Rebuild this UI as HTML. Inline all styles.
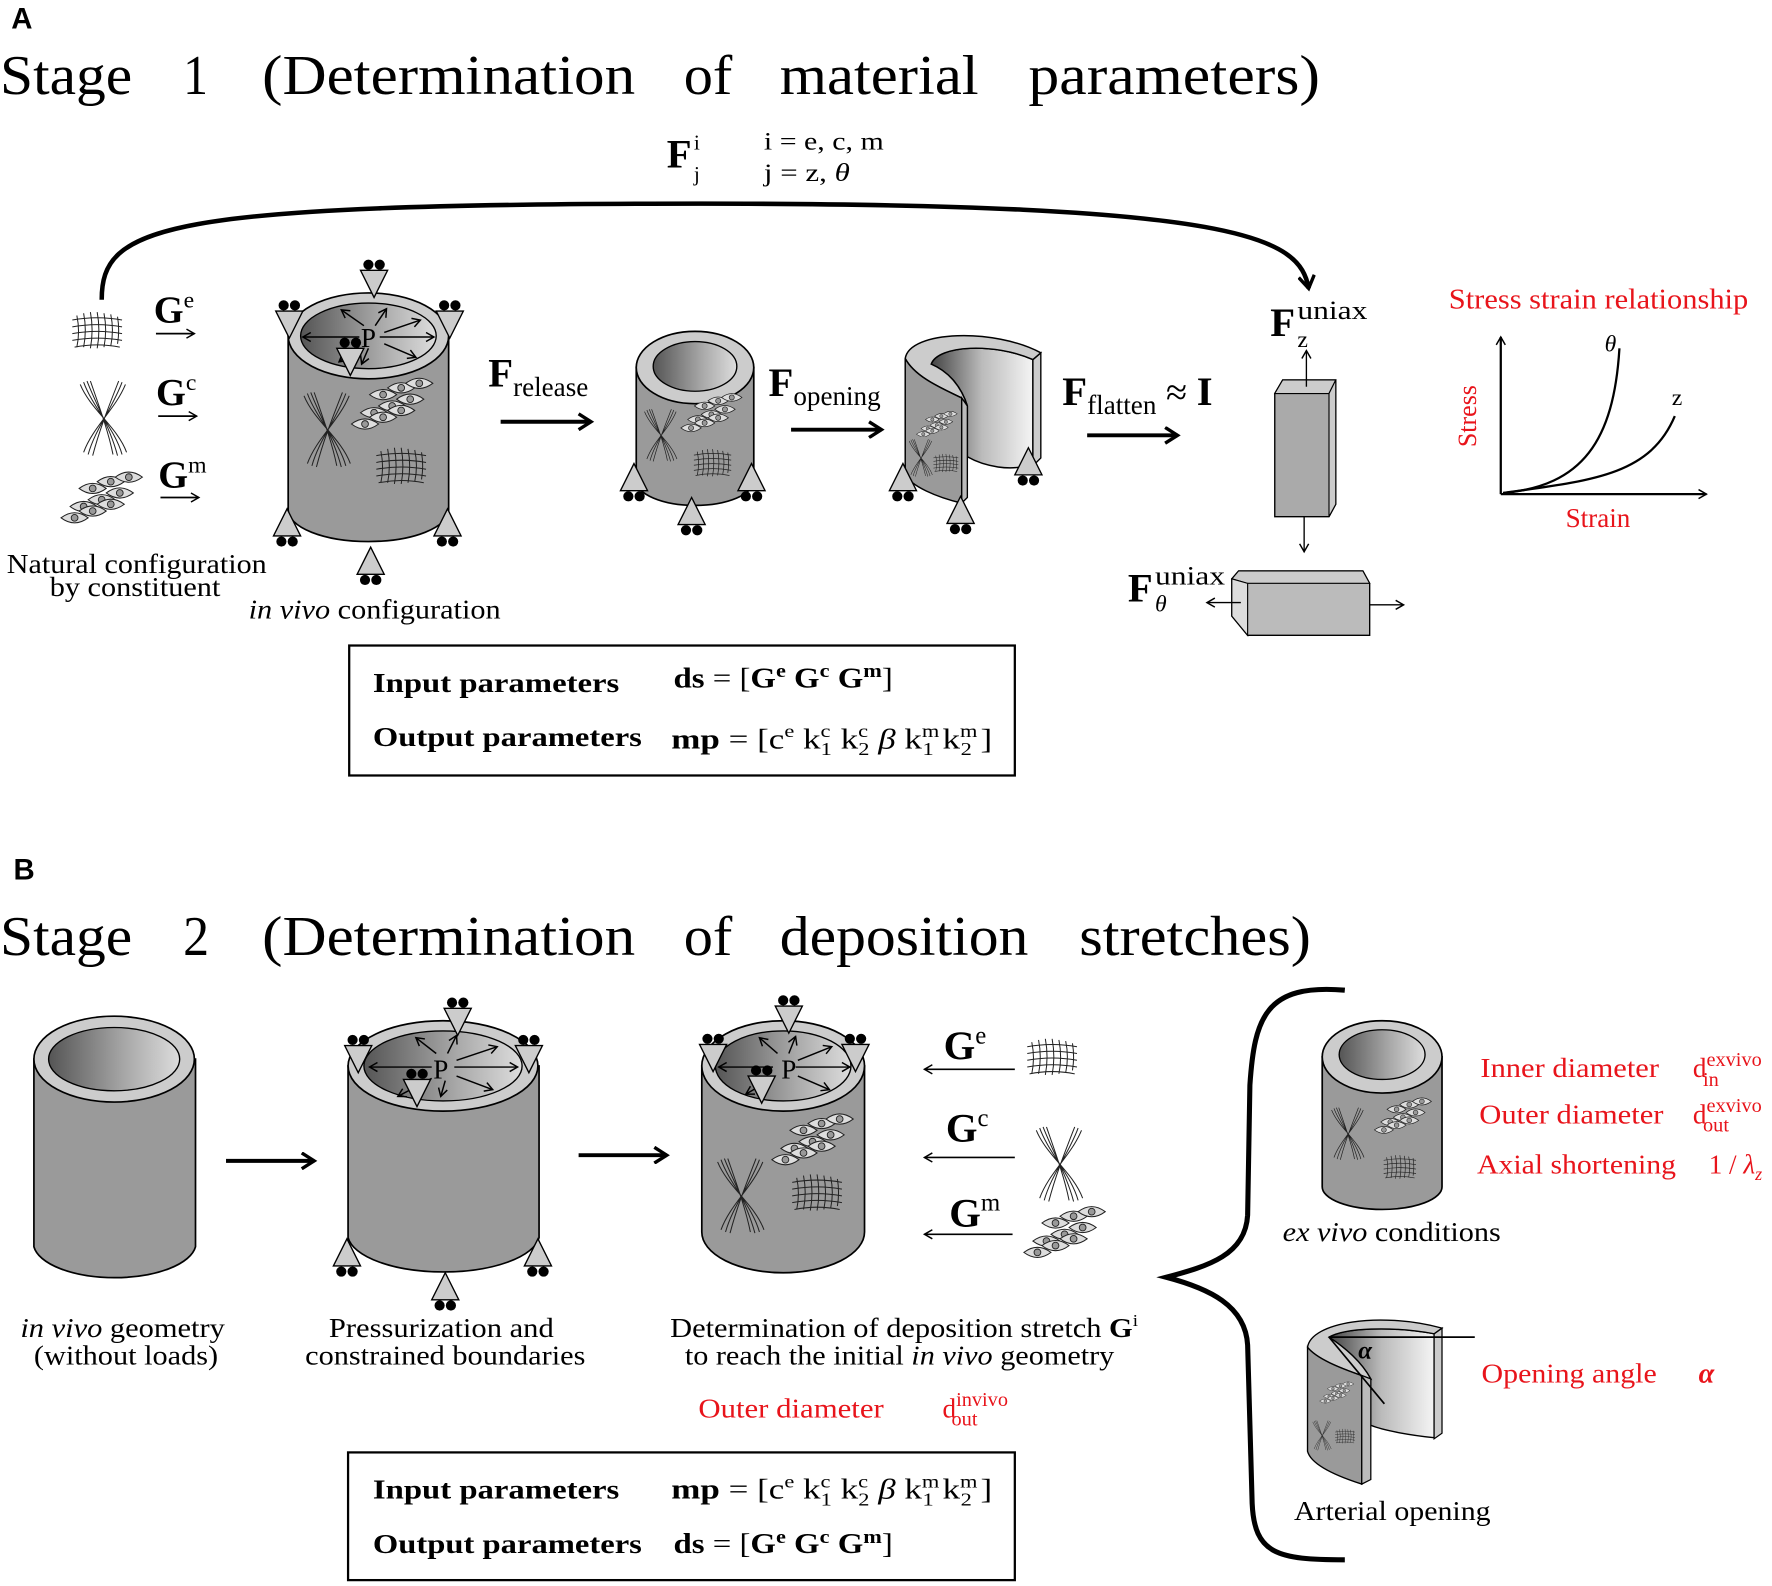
<!DOCTYPE html>
<html><head><meta charset="utf-8"><style>
html,body{margin:0;padding:0;background:#fff}
svg{display:block}
text{font-family:"Liberation Serif",serif}
.r{fill:#e8141b}
.sa{font-family:"Liberation Sans",sans-serif}
</style></head><body>
<svg width="1772" height="1586" viewBox="0 0 1568 1403" xmlns="http://www.w3.org/2000/svg">
<defs>
<linearGradient id="lum" x1="0" x2="1" y1="0" y2="0"><stop offset="0" stop-color="#555"/><stop offset="0.6" stop-color="#aaa"/><stop offset="1" stop-color="#ddd"/></linearGradient>
<linearGradient id="opn" x1="0" x2="1"><stop offset="0" stop-color="#444"/><stop offset="0.5" stop-color="#bbb"/><stop offset="1" stop-color="#f4f4f4"/></linearGradient>
<marker id="ah" markerWidth="10" markerHeight="10" refX="8" refY="5" orient="auto" markerUnits="userSpaceOnUse"><path d="M1,1 L8,5 L1,9" fill="none" stroke="#000" stroke-width="1.3"/></marker>
<marker id="ahb" markerWidth="16" markerHeight="16" refX="13" refY="8" orient="auto" markerUnits="userSpaceOnUse"><path d="M2,1 L13,8 L2,15" fill="none" stroke="#000" stroke-width="3"/></marker>
<g id="mesh" stroke="#222" stroke-width="0.9" fill="none">
<path d="M-20,-14 q3,14 0,28 M-14,-16 q3,15 0,30 M-8,-17 q3,16 0,32 M-2,-17 q3,16 0,32 M4,-16 q3,15 0,30 M10,-15 q3,14 0,28 M16,-13 q2,12 0,24"/>
<path d="M-24,-10 q22,-4 44,0 M-24,-4 q22,-4 44,0 M-24,2 q22,-4 44,0 M-24,8 q22,-4 44,0 M-22,14 q20,-4 40,0"/>
</g>
<g id="fib" stroke="#222" stroke-width="0.9" fill="none">
<path d="M-18,-32 C-10,-10 10,10 16,32 M-15,-33 C-6,-10 6,10 12,33 M-21,-30 C-12,-8 12,8 20,30 M-12,-33 C-4,-10 4,12 8,32"/>
<path d="M16,-32 C8,-10 -8,10 -14,32 M13,-33 C4,-10 -4,10 -10,33 M19,-30 C10,-8 -10,8 -18,30"/>
</g>
<g id="c1"><path d="M-12,0 q12,-9 24,0 q-12,9 -24,0z" fill="#ddd" stroke="#222" stroke-width="0.9"/><circle r="3" fill="#999" stroke="#222" stroke-width="0.8"/></g>
<g id="cel">
<use href="#c1" x="-14" y="8"/><use href="#c1" x="2" y="2"/><use href="#c1" x="18" y="-4"/>
<use href="#c1" x="-22" y="18"/><use href="#c1" x="-6" y="12"/><use href="#c1" x="10" y="6"/>
<use href="#c1" x="-6" y="-8"/><use href="#c1" x="10" y="-14"/><use href="#c1" x="26" y="-18"/>
</g>
<g id="sup"><path d="M-12,0 L12,0 L0,24 Z" fill="#ccc" stroke="#000" stroke-width="1.2"/><circle cx="-5" cy="-5" r="4.5"/><circle cx="5" cy="-5" r="4.5"/></g>
<g id="supu"><path d="M-12,0 L12,0 L0,-24 Z" fill="#ccc" stroke="#000" stroke-width="1.2"/><circle cx="-5" cy="5" r="4.5"/><circle cx="5" cy="5" r="4.5"/></g>
</defs>

<!-- ===== A ===== -->
<text x="10" y="25" class="sa" font-weight="bold" font-size="26">A</text>
<g font-size="50">
<text x="0" y="83" textLength="117" lengthAdjust="spacingAndGlyphs">Stage</text>
<text x="162" y="83" textLength="22" lengthAdjust="spacingAndGlyphs">1</text>
<text x="232" y="83" textLength="330" lengthAdjust="spacingAndGlyphs">(Determination</text>
<text x="605" y="83" textLength="43" lengthAdjust="spacingAndGlyphs">of</text>
<text x="690" y="83" textLength="176" lengthAdjust="spacingAndGlyphs">material</text>
<text x="910" y="83" textLength="258" lengthAdjust="spacingAndGlyphs">parameters)</text>
</g>

<text x="590" y="148" font-size="36" font-weight="bold">F</text>
<text x="614" y="132" font-size="19">i</text><text x="614" y="160" font-size="19">j</text>
<text x="676" y="132" font-size="22" textLength="106" lengthAdjust="spacingAndGlyphs">i = e, c, m</text>
<text x="676" y="160" font-size="22" textLength="76" lengthAdjust="spacingAndGlyphs">j = z, <tspan font-style="italic">θ</tspan></text>

<path d="M90,265 C90,200 140,180 620,180 C1100,180 1150,210 1158,255" fill="none" stroke="#000" stroke-width="4" marker-end="url(#ahb)"/>

<use href="#mesh" x="88" y="293"/>
<use href="#fib" x="92" y="370"/>
<use href="#cel" x="88" y="440"/>
<text x="136" y="285" font-size="34" font-weight="bold">G<tspan font-size="21" dy="-13" font-weight="normal">e</tspan></text>
<line x1="138" y1="295" x2="172" y2="295" stroke="#000" stroke-width="1.5" marker-end="url(#ah)"/>
<text x="138" y="358" font-size="34" font-weight="bold">G<tspan font-size="21" dy="-13" font-weight="normal">c</tspan></text>
<line x1="140" y1="368" x2="174" y2="368" stroke="#000" stroke-width="1.5" marker-end="url(#ah)"/>
<text x="140" y="431" font-size="34" font-weight="bold">G<tspan font-size="21" dy="-13" font-weight="normal">m</tspan></text>
<line x1="142" y1="440" x2="176" y2="440" stroke="#000" stroke-width="1.5" marker-end="url(#ah)"/>
<text x="6" y="507" font-size="24" textLength="230" lengthAdjust="spacingAndGlyphs">Natural configuration</text>
<text x="44" y="527" font-size="24" textLength="151" lengthAdjust="spacingAndGlyphs">by constituent</text>

<!-- cylinder 1 -->
<path d="M255,297 L255,451 A71,28 0 0 0 397,451 L397,297 Z" fill="#9a9a9a" stroke="#000" stroke-width="1.5"/>
<ellipse cx="326" cy="297" rx="71" ry="38" fill="#ccc" stroke="#000" stroke-width="1.5"/>
<ellipse cx="326" cy="297" rx="60" ry="29" fill="url(#lum)" stroke="#000" stroke-width="1.2"/>
<g stroke="#000" stroke-width="1.3" marker-end="url(#ah)"><line x1="318" y1="298" x2="268" y2="298"/><line x1="336" y1="298" x2="384" y2="298"/><line x1="322" y1="288" x2="302" y2="274"/><line x1="332" y1="288" x2="342" y2="273"/><line x1="340" y1="294" x2="372" y2="283"/><line x1="340" y1="304" x2="368" y2="316"/><line x1="318" y1="306" x2="300" y2="320"/><line x1="326" y1="308" x2="320" y2="322"/></g>
<text x="326" y="307" font-size="24" text-anchor="middle">P</text>
<use href="#sup" x="331" y="239"/><use href="#sup" x="256" y="275"/><use href="#sup" x="398" y="275"/><use href="#sup" x="310" y="308"/>
<use href="#supu" x="254" y="474"/><use href="#supu" x="396" y="474"/><use href="#supu" x="328" y="508"/>
<use href="#fib" x="290" y="380"/><use href="#cel" x="345" y="357"/><use href="#mesh" x="357" y="413"/>
<text x="220" y="547" font-size="24" textLength="223" lengthAdjust="spacingAndGlyphs"><tspan font-style="italic">in vivo</tspan> configuration</text>

<text x="432" y="342" font-size="36" font-weight="bold">F<tspan font-size="24" font-weight="normal" dy="8">release</tspan></text>
<line x1="443" y1="373" x2="523" y2="373" stroke="#000" stroke-width="3.5" marker-end="url(#ahb)"/>

<!-- cylinder 2 -->
<path d="M563,325 L563,425 A52,22 0 0 0 667,425 L667,325 Z" fill="#9a9a9a" stroke="#000" stroke-width="1.5"/>
<ellipse cx="615" cy="325" rx="52" ry="32" fill="#ccc" stroke="#000" stroke-width="1.5"/>
<ellipse cx="615" cy="324" rx="37" ry="22" fill="url(#lum)" stroke="#000" stroke-width="1.2"/>
<use href="#fib" transform="translate(585,385) scale(0.7)"/><use href="#cel" transform="translate(628,365) scale(0.75)"/><use href="#mesh" transform="translate(632,410) scale(0.75)"/>
<use href="#supu" x="561" y="434"/><use href="#supu" x="665" y="434"/><use href="#supu" x="612" y="464"/>

<text x="680" y="350" font-size="36" font-weight="bold">F<tspan font-size="24" font-weight="normal" dy="8">opening</tspan></text>
<line x1="700" y1="380" x2="780" y2="380" stroke="#000" stroke-width="3.5" marker-end="url(#ahb)"/>

<!-- open cylinder A -->
<path d="M824,322 C830,305 880,303 914,318 L914,410 C895,418 870,412 856,404 L856,359 C850,340 838,328 824,322 Z" fill="url(#opn)" stroke="#000" stroke-width="1.3"/>
<path d="M914,318 L921,312 L921,405 L914,412 Z" fill="#ccc" stroke="#000" stroke-width="1.2"/>
<path d="M801,317 C805,292 880,290 921,312 L914,318 C880,303 830,305 824,322 C838,328 850,340 856,359 L851,352 C835,344 810,334 801,317 Z" fill="#ccc" stroke="#000" stroke-width="1.3"/>
<path d="M801,317 C810,334 835,344 851,352 L851,445 C830,440 805,430 801,419 Z" fill="#9a9a9a" stroke="#000" stroke-width="1.3"/>
<path d="M851,352 L856,359 L856,440 L851,445 Z" fill="#bbb" stroke="#000" stroke-width="1.2"/>
<use href="#fib" transform="translate(815,405) scale(0.5)"/><use href="#cel" transform="translate(828,375) scale(0.5)"/><use href="#mesh" transform="translate(838,410) scale(0.5)"/>
<use href="#supu" x="799" y="434"/><use href="#supu" x="910" y="420"/><use href="#supu" x="850" y="463"/>

<text x="940" y="358" font-size="36" font-weight="bold">F<tspan font-size="24" font-weight="normal" dy="8">flatten</tspan><tspan dy="-8" font-weight="normal" font-size="34"> ≈ </tspan>I</text>
<line x1="962" y1="385" x2="1042" y2="385" stroke="#000" stroke-width="3.5" marker-end="url(#ahb)"/>

<!-- bars -->
<path d="M1128,348 L1135,336 L1182,336 L1182,446 L1176,457 L1128,457 Z" fill="#aaa" stroke="#000" stroke-width="1.2"/>
<path d="M1128,348 L1135,336 L1182,336 L1176,348 Z" fill="#ccc" stroke="#000" stroke-width="1"/>
<path d="M1176,348 L1182,336 L1182,446 L1176,457 Z" fill="#ccc" stroke="#000" stroke-width="1"/>
<line x1="1156" y1="342" x2="1156" y2="310" stroke="#000" stroke-width="1.2" marker-end="url(#ah)"/>
<line x1="1154" y1="457" x2="1154" y2="488" stroke="#000" stroke-width="1.2" marker-end="url(#ah)"/>
<text x="1124" y="297" font-size="36" font-weight="bold">F</text><text x="1148" y="282" font-size="23" textLength="62" lengthAdjust="spacingAndGlyphs">uniax</text><text x="1148" y="307" font-size="21">z</text>
<path d="M1090,512 L1096,505 L1206,505 L1212,516 L1212,562 L1104,562 L1090,545 Z" fill="#bbb" stroke="#000" stroke-width="1.2"/>
<path d="M1090,512 L1096,505 L1206,505 L1212,516 L1104,516 Z" fill="#ccc" stroke="#000" stroke-width="1"/>
<path d="M1090,512 L1104,516 L1104,562 L1090,545 Z" fill="#ddd" stroke="#000" stroke-width="1"/>
<line x1="1098" y1="533" x2="1068" y2="533" stroke="#000" stroke-width="1.2" marker-end="url(#ah)"/>
<line x1="1212" y1="535" x2="1242" y2="535" stroke="#000" stroke-width="1.2" marker-end="url(#ah)"/>
<text x="998" y="532" font-size="36" font-weight="bold">F</text><text x="1022" y="517" font-size="23" textLength="62" lengthAdjust="spacingAndGlyphs">uniax</text><text x="1022" y="541" font-size="21" font-style="italic">θ</text>

<!-- graph -->
<text x="1282" y="273" font-size="25" class="r" textLength="265" lengthAdjust="spacingAndGlyphs">Stress strain relationship</text>
<line x1="1328" y1="437" x2="1328" y2="298" stroke="#000" stroke-width="2" marker-end="url(#ah)"/>
<line x1="1328" y1="437" x2="1510" y2="437" stroke="#000" stroke-width="2" marker-end="url(#ah)"/>
<path d="M1330,436 C1400,430 1428,390 1433,308" fill="none" stroke="#000" stroke-width="2"/>
<path d="M1330,436 C1410,425 1460,420 1482,368" fill="none" stroke="#000" stroke-width="2"/>
<text x="1425" y="311" font-size="21" font-style="italic" text-anchor="middle">θ</text>
<text x="1484" y="358" font-size="21" text-anchor="middle">z</text>
<text x="1306" y="368" font-size="23" class="r" text-anchor="middle" transform="rotate(-90 1306 368)">Stress</text>
<text x="1414" y="466" font-size="24" class="r" text-anchor="middle">Strain</text>

<rect x="309" y="571" width="589" height="115" fill="none" stroke="#000" stroke-width="2"/>
<text x="330" y="612" font-size="24" font-weight="bold" textLength="218" lengthAdjust="spacingAndGlyphs">Input parameters</text>
<text x="596" y="608" font-size="25" textLength="194" lengthAdjust="spacingAndGlyphs"><tspan font-weight="bold">ds</tspan> = [<tspan font-weight="bold">G</tspan><tspan font-size="17" dy="-9" font-weight="bold">e</tspan><tspan dy="9"> </tspan><tspan font-weight="bold">G</tspan><tspan font-size="17" dy="-9" font-weight="bold">c</tspan><tspan dy="9"> </tspan><tspan font-weight="bold">G</tspan><tspan font-size="17" dy="-9" font-weight="bold">m</tspan><tspan dy="9">]</tspan></text>
<text x="330" y="660" font-size="24" font-weight="bold" textLength="238" lengthAdjust="spacingAndGlyphs">Output parameters</text>
<text x="594" y="662" font-size="25" textLength="284" lengthAdjust="spacingAndGlyphs"><tspan font-weight="bold">mp</tspan> = [c<tspan font-size="16" dy="-10">e</tspan><tspan dy="10">  k</tspan><tspan font-size="16" dy="-10">c</tspan><tspan font-size="16" dx="-7" dy="16">1</tspan><tspan dy="-6">  k</tspan><tspan font-size="16" dy="-10">c</tspan><tspan font-size="16" dx="-7" dy="16">2</tspan><tspan dy="-6" font-style="italic">  β</tspan><tspan>  k</tspan><tspan font-size="16" dy="-10">m</tspan><tspan font-size="16" dx="-12" dy="16">1</tspan><tspan dy="-6">   k</tspan><tspan font-size="16" dy="-10">m</tspan><tspan font-size="16" dx="-12" dy="16">2</tspan><tspan dy="-6">  ]</tspan></text>

<!-- ===== B ===== -->
<text x="12" y="778" class="sa" font-weight="bold" font-size="26">B</text>
<g font-size="50">
<text x="0" y="845" textLength="117" lengthAdjust="spacingAndGlyphs">Stage</text>
<text x="162" y="845" textLength="23" lengthAdjust="spacingAndGlyphs">2</text>
<text x="232" y="845" textLength="330" lengthAdjust="spacingAndGlyphs">(Determination</text>
<text x="605" y="845" textLength="43" lengthAdjust="spacingAndGlyphs">of</text>
<text x="690" y="845" textLength="220" lengthAdjust="spacingAndGlyphs">deposition</text>
<text x="955" y="845" textLength="205" lengthAdjust="spacingAndGlyphs">stretches)</text>
</g>

<!-- cyl B1 -->
<path d="M30,937 L30,1103 A72,31 0 0 0 173,1103 L173,937 Z" fill="#9a9a9a" stroke="#000" stroke-width="1.5"/>
<ellipse cx="101" cy="937" rx="71" ry="38" fill="#ccc" stroke="#000" stroke-width="1.5"/>
<ellipse cx="101" cy="937" rx="58" ry="28" fill="url(#lum)" stroke="#000" stroke-width="1.2"/>
<text x="18" y="1183" font-size="24" textLength="181" lengthAdjust="spacingAndGlyphs"><tspan font-style="italic">in vivo</tspan> geometry</text>
<text x="30" y="1207" font-size="24" textLength="163" lengthAdjust="spacingAndGlyphs">(without loads)</text>
<line x1="200" y1="1027" x2="278" y2="1027" stroke="#000" stroke-width="3.5" marker-end="url(#ahb)"/>

<!-- cyl B2 -->
<path d="M308,943 L308,1095 A85,34 0 0 0 477,1095 L477,943 Z" fill="#9a9a9a" stroke="#000" stroke-width="1.5"/>
<ellipse cx="392" cy="943" rx="84" ry="40" fill="#ccc" stroke="#000" stroke-width="1.5"/>
<ellipse cx="392" cy="943" rx="70" ry="31" fill="url(#lum)" stroke="#000" stroke-width="1.2"/>
<g stroke="#000" stroke-width="1.3" marker-end="url(#ah)"><line x1="382" y1="944" x2="327" y2="944"/><line x1="402" y1="944" x2="458" y2="944"/><line x1="386" y1="932" x2="368" y2="918"/><line x1="396" y1="932" x2="404" y2="916"/><line x1="404" y1="938" x2="440" y2="926"/><line x1="404" y1="952" x2="436" y2="964"/><line x1="382" y1="954" x2="352" y2="970"/><line x1="394" y1="956" x2="390" y2="970"/></g>
<text x="390" y="954" font-size="24" text-anchor="middle">P</text>
<use href="#sup" x="405" y="892"/><use href="#sup" x="317" y="925"/><use href="#sup" x="468" y="925"/><use href="#sup" x="369" y="955"/>
<use href="#supu" x="307" y="1120"/><use href="#supu" x="476" y="1120"/><use href="#supu" x="394" y="1150"/>
<text x="291" y="1183" font-size="24" textLength="199" lengthAdjust="spacingAndGlyphs">Pressurization and</text>
<text x="270" y="1207" font-size="24" textLength="248" lengthAdjust="spacingAndGlyphs">constrained boundaries</text>
<line x1="512" y1="1022" x2="590" y2="1022" stroke="#000" stroke-width="3.5" marker-end="url(#ahb)"/>

<!-- cyl B3 -->
<path d="M621,943 L621,1090 A72,36 0 0 0 765,1090 L765,943 Z" fill="#9a9a9a" stroke="#000" stroke-width="1.5"/>
<ellipse cx="693" cy="943" rx="72" ry="40" fill="#ccc" stroke="#000" stroke-width="1.5"/>
<ellipse cx="693" cy="943" rx="60" ry="31" fill="url(#lum)" stroke="#000" stroke-width="1.2"/>
<g stroke="#000" stroke-width="1.3" marker-end="url(#ah)"><line x1="684" y1="944" x2="636" y2="944"/><line x1="704" y1="944" x2="752" y2="944"/><line x1="688" y1="932" x2="672" y2="918"/><line x1="698" y1="932" x2="704" y2="917"/><line x1="706" y1="938" x2="736" y2="926"/><line x1="706" y1="952" x2="734" y2="964"/><line x1="684" y1="954" x2="660" y2="968"/></g>
<text x="698" y="954" font-size="24" text-anchor="middle">P</text>
<use href="#sup" x="698" y="890"/><use href="#sup" x="631" y="924"/><use href="#sup" x="757" y="924"/><use href="#sup" x="674" y="952"/>
<use href="#fib" x="656" y="1058"/><use href="#cel" x="717" y="1008"/><use href="#mesh" x="725" y="1056"/>
<text x="593" y="1183" font-size="24" textLength="414" lengthAdjust="spacingAndGlyphs">Determination of deposition stretch <tspan font-weight="bold">G</tspan><tspan font-size="15" dy="-10">i</tspan></text>
<text x="606" y="1207" font-size="24" textLength="380" lengthAdjust="spacingAndGlyphs">to reach the initial <tspan font-style="italic">in vivo</tspan> geometry</text>
<text x="618" y="1254" font-size="24" class="r" textLength="164" lengthAdjust="spacingAndGlyphs">Outer diameter</text>
<text x="834" y="1254" font-size="24" class="r">d<tspan font-size="18" dy="-10">invivo</tspan><tspan font-size="18" dx="-50" dy="17">out</tspan></text>

<text x="835" y="937" font-size="36" font-weight="bold">G<tspan font-size="22" dy="-14" font-weight="normal">e</tspan></text>
<line x1="898" y1="946" x2="818" y2="946" stroke="#000" stroke-width="1.5" marker-end="url(#ah)"/>
<use href="#mesh" x="933" y="936"/>
<text x="837" y="1010" font-size="36" font-weight="bold">G<tspan font-size="22" dy="-14" font-weight="normal">c</tspan></text>
<line x1="898" y1="1024" x2="818" y2="1024" stroke="#000" stroke-width="1.5" marker-end="url(#ah)"/>
<use href="#fib" x="938" y="1030"/>
<text x="840" y="1085" font-size="36" font-weight="bold">G<tspan font-size="22" dy="-14" font-weight="normal">m</tspan></text>
<line x1="896" y1="1092" x2="818" y2="1092" stroke="#000" stroke-width="1.5" marker-end="url(#ah)"/>
<use href="#cel" x="940" y="1090"/>

<rect x="308" y="1285" width="590" height="113" fill="none" stroke="#000" stroke-width="2"/>
<text x="330" y="1326" font-size="24" font-weight="bold" textLength="218" lengthAdjust="spacingAndGlyphs">Input parameters</text>
<text x="594" y="1326" font-size="25" textLength="284" lengthAdjust="spacingAndGlyphs"><tspan font-weight="bold">mp</tspan> = [c<tspan font-size="16" dy="-10">e</tspan><tspan dy="10">  k</tspan><tspan font-size="16" dy="-10">c</tspan><tspan font-size="16" dx="-7" dy="16">1</tspan><tspan dy="-6">  k</tspan><tspan font-size="16" dy="-10">c</tspan><tspan font-size="16" dx="-7" dy="16">2</tspan><tspan dy="-6" font-style="italic">  β</tspan><tspan>  k</tspan><tspan font-size="16" dy="-10">m</tspan><tspan font-size="16" dx="-12" dy="16">1</tspan><tspan dy="-6">   k</tspan><tspan font-size="16" dy="-10">m</tspan><tspan font-size="16" dx="-12" dy="16">2</tspan><tspan dy="-6">  ]</tspan></text>
<text x="330" y="1374" font-size="24" font-weight="bold" textLength="238" lengthAdjust="spacingAndGlyphs">Output parameters</text>
<text x="596" y="1374" font-size="25" textLength="194" lengthAdjust="spacingAndGlyphs"><tspan font-weight="bold">ds</tspan> = [<tspan font-weight="bold">G</tspan><tspan font-size="17" dy="-9" font-weight="bold">e</tspan><tspan dy="9"> </tspan><tspan font-weight="bold">G</tspan><tspan font-size="17" dy="-9" font-weight="bold">c</tspan><tspan dy="9"> </tspan><tspan font-weight="bold">G</tspan><tspan font-size="17" dy="-9" font-weight="bold">m</tspan><tspan dy="9">]</tspan></text>

<!-- brace -->
<path d="M1190,876 C1120,870 1110,900 1106,960 L1104,1075 C1102,1110 1070,1120 1032,1130 C1070,1140 1102,1155 1104,1190 L1108,1330 C1110,1375 1130,1380 1190,1380" fill="none" stroke="#000" stroke-width="4.5"/>

<!-- small cyl -->
<path d="M1170,935 L1170,1050 A53,20 0 0 0 1276,1050 L1276,935 Z" fill="#9a9a9a" stroke="#000" stroke-width="1.5"/>
<ellipse cx="1223" cy="935" rx="53" ry="32" fill="#ccc" stroke="#000" stroke-width="1.5"/>
<ellipse cx="1223" cy="933" rx="38" ry="22" fill="url(#lum)" stroke="#000" stroke-width="1.2"/>
<use href="#fib" transform="translate(1193,1003) scale(0.7)"/><use href="#cel" transform="translate(1240,987) scale(0.7)"/><use href="#mesh" transform="translate(1240,1033) scale(0.65)"/>
<text x="1135" y="1098" font-size="24" textLength="193" lengthAdjust="spacingAndGlyphs"><tspan font-style="italic">ex vivo</tspan> conditions</text>
<text x="1310" y="953" font-size="24" class="r" textLength="158" lengthAdjust="spacingAndGlyphs">Inner diameter</text>
<text x="1309" y="994" font-size="24" class="r" textLength="163" lengthAdjust="spacingAndGlyphs">Outer diameter</text>
<text x="1307" y="1038" font-size="24" class="r" textLength="176" lengthAdjust="spacingAndGlyphs">Axial shortening</text>
<text x="1498" y="953" font-size="24" class="r">d<tspan font-size="18" dy="-10">exvivo</tspan><tspan font-size="18" dx="-52" dy="18">in</tspan></text>
<text x="1498" y="994" font-size="24" class="r">d<tspan font-size="18" dy="-10">exvivo</tspan><tspan font-size="18" dx="-52" dy="17">out</tspan></text>
<text x="1512" y="1038" font-size="24" class="r">1 / <tspan font-style="italic">λ</tspan><tspan font-size="16" dy="6" font-style="italic">z</tspan></text>

<!-- arterial opening -->
<path d="M1176,1183 C1190,1175 1230,1173 1269,1180 L1269,1272 C1250,1270 1225,1266 1213,1261 L1213,1220 C1205,1205 1190,1192 1176,1183 Z" fill="url(#opn)" stroke="#000" stroke-width="1.2"/>
<path d="M1269,1180 L1276,1175 L1276,1268 L1269,1273 Z" fill="#ccc" stroke="#000" stroke-width="1.1"/>
<path d="M1157,1192 C1160,1170 1220,1160 1276,1175 L1269,1180 C1230,1173 1190,1175 1176,1183 C1190,1192 1205,1205 1213,1220 L1205,1217 C1185,1210 1165,1202 1157,1192 Z" fill="#ccc" stroke="#000" stroke-width="1.2"/>
<path d="M1157,1192 C1165,1202 1185,1210 1205,1217 L1205,1313 C1180,1305 1160,1295 1157,1284 Z" fill="#9a9a9a" stroke="#000" stroke-width="1.2"/>
<path d="M1205,1217 L1213,1220 L1213,1309 L1205,1313 Z" fill="#bbb" stroke="#000" stroke-width="1.1"/>
<use href="#cel" transform="translate(1182,1232) scale(0.42)"/><use href="#fib" transform="translate(1170,1270) scale(0.4)"/><use href="#mesh" transform="translate(1191,1271) scale(0.4)"/>
<line x1="1176" y1="1183" x2="1305" y2="1183" stroke="#000" stroke-width="1.5"/>
<line x1="1176" y1="1183" x2="1225" y2="1242" stroke="#000" stroke-width="1.5"/>
<text x="1208" y="1202" font-size="22" font-weight="bold" font-style="italic" text-anchor="middle">α</text>
<text x="1311" y="1223" font-size="24" class="r" textLength="155" lengthAdjust="spacingAndGlyphs">Opening angle</text>
<text x="1510" y="1223" font-size="25" text-anchor="middle" class="r" font-weight="bold" font-style="italic">α</text>
<text x="1145" y="1345" font-size="24" textLength="174" lengthAdjust="spacingAndGlyphs">Arterial opening</text>
</svg>
</body></html>
